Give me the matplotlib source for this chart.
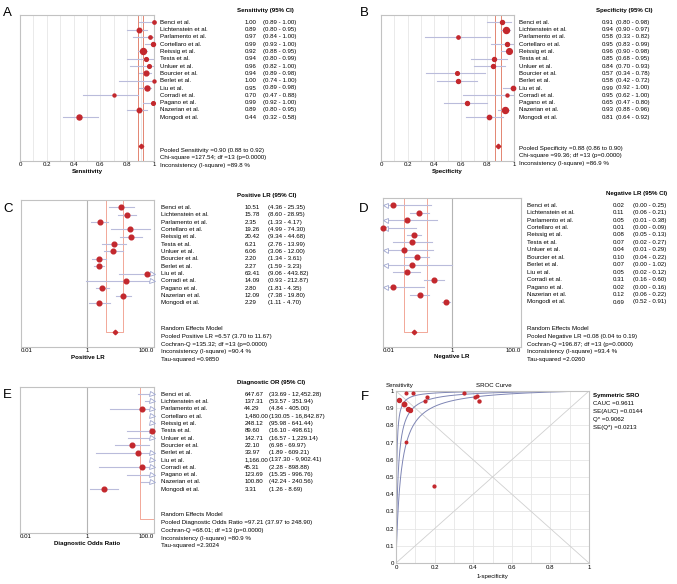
import numpy as np
import matplotlib
matplotlib.use('Agg')
import matplotlib.pyplot as plt
from matplotlib.ticker import NullLocator
from matplotlib.transforms import blended_transform_factory

plt.rcParams['font.family'] = ['Liberation Sans', 'DejaVu Sans']
(W, H, DPI) = (677, 584, 100)
FS = 4.45
###############################################################################
# Data
###############################################################################
studies = [
    'Benci et al.', 'Lichtenstein et al.', 'Parlamento et al.',
    'Cortellaro et al.', 'Reissig et al.', 'Testa et al.', 'Unluer et al.',
    'Bourcier et al.', 'Berlet et al.', 'Liu et al.', 'Corradi et al.',
    'Pagano et al.', 'Nazerian et al.', 'Mongodi et al.'
]
# Sensitivity -----------------------------------------------------------------
sens = [1.00, 0.89, 0.97, 0.99, 0.92, 0.94, 0.96, 0.94, 1.00, 0.95, 0.70, 0.99, 0.89, 0.44]
sens_lo = [0.89, 0.80, 0.84, 0.93, 0.88, 0.80, 0.82, 0.89, 0.74, 0.89, 0.47, 0.92, 0.80, 0.32]
sens_hi = [1.00, 0.95, 1.00, 1.00, 0.95, 0.99, 1.00, 0.98, 1.00, 0.98, 0.88, 1.00, 0.95, 0.58]
sens_weight = [3.3, 4.5, 3.3, 4.0, 6.0, 3.8, 3.7, 4.8, 3.0, 5.0, 3.0, 3.7, 4.5, 5.0]
sens_pool = (0.90, 0.88, 0.92)
sens_stats = [
    'Pooled Sensitivity =0.90 (0.88 to 0.92)',
    'Chi-square =127.54; df =13 (p=0.0000)',
    'Inconsistency (I-square) =89.8 %'
]
# Specificity -----------------------------------------------------------------
spec = [0.91, 0.94, 0.58, 0.95, 0.96, 0.85, 0.84, 0.57, 0.58, 0.99, 0.95, 0.65, 0.93, 0.81]
spec_lo = [0.80, 0.90, 0.33, 0.83, 0.90, 0.68, 0.70, 0.34, 0.42, 0.92, 0.62, 0.47, 0.88, 0.64]
spec_hi = [0.98, 0.97, 0.82, 0.99, 0.98, 0.95, 0.93, 0.78, 0.72, 1.00, 1.00, 0.80, 0.96, 0.92]
spec_weight = [4.0, 6.0, 3.3, 4.0, 5.7, 4.0, 4.0, 3.7, 4.0, 4.3, 3.0, 4.0, 6.0, 4.3]
spec_pool = (0.88, 0.86, 0.90)
spec_stats = [
    'Pooled Specificity =0.88 (0.86 to 0.90)',
    'Chi-square =99.36; df =13 (p=0.0000)',
    'Inconsistency (I-square) =86.9 %'
]
# Positive LR -----------------------------------------------------------------
plr = [10.51, 15.78, 2.35, 19.26, 20.42, 6.21, 6.06, 2.20, 2.27, 63.41, 14.09, 2.80, 12.09, 2.29]
plr_lo = [4.36, 8.60, 1.33, 4.99, 9.34, 2.76, 3.06, 1.34, 1.59, 9.06, 0.93, 1.81, 7.38, 1.11]
plr_hi = [25.35, 28.95, 4.17, 74.30, 44.68, 13.99, 12.00, 3.61, 3.23, 443.82, 212.87, 4.35, 19.80, 4.70]
plr_pool = (6.57, 3.70, 11.67)
plr_stats = [
    'Random Effects Model',
    'Pooled Positive LR =6.57 (3.70 to 11.67)',
    'Cochran-Q =135.32; df =13 (p=0.0000)',
    'Inconsistency (I-square) =90.4 %',
    'Tau-squared =0.9850'
]
# Negative LR -----------------------------------------------------------------
nlr = [0.02, 0.11, 0.05, 0.01, 0.08, 0.07, 0.04, 0.10, 0.07, 0.05, 0.31, 0.02, 0.12, 0.69]
nlr_lo = [0.00, 0.06, 0.01, 0.00, 0.05, 0.02, 0.01, 0.04, 0.00, 0.02, 0.16, 0.00, 0.06, 0.52]
nlr_hi = [0.25, 0.21, 0.38, 0.09, 0.13, 0.27, 0.29, 0.22, 1.02, 0.12, 0.60, 0.16, 0.22, 0.91]
nlr_pool = (0.08, 0.04, 0.19)
nlr_stats = [
    'Random Effects Model',
    'Pooled Negative LR =0.08 (0.04 to 0.19)',
    'Cochran-Q =196.87; df =13 (p=0.0000)',
    'Inconsistency (I-square) =93.4 %',
    'Tau-squared =2.0260'
]
# Diagnostic OR ---------------------------------------------------------------
dor = [647.67, 137.31, 44.29, 1480.00, 248.12, 89.60, 142.71, 22.10, 33.97, 1166.00, 45.31, 123.69, 100.80, 3.31]
dor_lo = [33.69, 53.57, 4.84, 130.05, 95.98, 16.10, 16.57, 6.98, 1.89, 137.30, 2.28, 15.35, 42.24, 1.26]
dor_hi = [12452.28, 351.94, 405.00, 16842.87, 641.44, 498.61, 1229.14, 69.97, 609.21, 9902.41, 898.88, 996.76, 240.56, 8.69]
dor_pool = (97.21, 37.97, 248.90)
dor_stats = [
    'Random Effects Model',
    'Pooled Diagnostic Odds Ratio =97.21 (37.97 to 248.90)',
    'Cochran-Q =68.01; df =13 (p=0.0000)',
    'Inconsistency (I-square) =80.9 %',
    'Tau-squared =2.3024'
]
# SROC ------------------------------------------------------------------------
roc_fpr = [0.09, 0.06, 0.42, 0.05, 0.04, 0.15, 0.16, 0.43, 0.41, 0.015, 0.05, 0.35, 0.075, 0.195]
roc_tpr = [0.986, 0.895, 0.97, 0.99, 0.922, 0.943, 0.965, 0.944, 0.964, 0.948, 0.705, 0.988, 0.89, 0.446]
roc_weight = [2.7, 4.0, 2.8, 2.7, 4.5, 2.8, 2.8, 3.0, 2.8, 4.0, 2.5, 2.8, 4.0, 2.8]
sroc_q = 0.9062
sroc_se_q = 0.0213
sroc_stats = ['CAUC =0.9611', 'SE(AUC) =0.0144', 'Q* =0.9062', 'SE(Q*) =0.0213']
###############################################################################
# Styles
###############################################################################
RED = '#C3282D'
CI = '#BABCDB'
ARROW = '#9FA6CF'
POOL = '#E38672'
BOX = '#F2A898'
GRID = '#E6E6E6'
SPINE = '#C2C2C2'
CURVE = '#7E85B4'
POOL_ROW = 18

fig = plt.figure(figsize=(W / DPI, H / DPI), dpi=DPI)


def addAxes(l, t, r, b):
    return fig.add_axes([l / W, 1 - b / H, (r - l) / W, (b - t) / H])


def forest(rect, est, lo, hi, pool, wts, log, cols, header, stats, statTop,
           statStep, xlabel, ticks, tlabels, fmt, drawPool=True):
    ax = addAxes(*rect)
    n = len(est)
    rows = np.arange(1, n + 1)
    xlim = (0.01, 100) if log else (0, 1)
    if log:
        ax.set_xscale('log')
        ax.xaxis.set_minor_locator(NullLocator())
    ax.set_xlim(*xlim)
    ax.set_ylim(20, 0)
    ax.set_yticks([])
    for s in ax.spines.values():
        s.set_color(SPINE)
        s.set_linewidth(0.8)
    # Grid / reference ------------------------------------------------------
    if log:
        ax.axvline(1, color='#B4B4B4', lw=0.8, zorder=1)
        ax.plot([pool[1], pool[1], pool[2], pool[2]], [0, POOL_ROW, POOL_ROW, 0],
                color=BOX, lw=0.7, zorder=1)
    else:
        for v in np.arange(0.1, 1.0, 0.1):
            ax.axvline(v, color=GRID, lw=0.6, zorder=0)
        ax.axvline(pool[1], color=POOL, lw=0.7, zorder=1)
        ax.axvline(pool[2], color=POOL, lw=0.7, zorder=1)
    # CI lines, arrows and markers -------------------------------------------
    for i in range(n):
        x0 = max(lo[i], xlim[0])
        x1 = min(hi[i], xlim[1])
        if x1 > x0:
            ax.plot([x0, x1], [rows[i], rows[i]], color=CI, lw=0.8, zorder=2)
        if log and lo[i] <= xlim[0]:
            ax.plot(xlim[0] * 1.12, rows[i], marker='<', ms=3.6, mfc='white',
                    mec=ARROW, mew=0.6, clip_on=False, zorder=3)
        if log and hi[i] >= xlim[1]:
            ax.plot(xlim[1] / 1.12, rows[i], marker='>', ms=3.6, mfc='white',
                    mec=ARROW, mew=0.6, clip_on=False, zorder=3)
        if xlim[0] <= est[i] <= xlim[1] and not (log and est[i] >= xlim[1]):
            ax.plot(est[i], rows[i], 'o', ms=wts[i] * 0.72, color=RED,
                    mec=RED, clip_on=False, zorder=4)
    if drawPool:
        ax.plot(pool[0], POOL_ROW, 'D', ms=2.3, color=RED, mec=RED,
                clip_on=False, zorder=4)
    # Ticks -----------------------------------------------------------------
    ax.set_xticks(ticks)
    ax.set_xticklabels(tlabels, fontsize=FS)
    ax.tick_params(axis='x', length=0, pad=0.8)
    if log:
        lbls = ax.get_xticklabels()
        lbls[0].set_ha('left')
        lbls[-1].set_ha('right')
    ax.set_xlabel(xlabel, fontsize=FS, fontweight='bold', labelpad=1.2)
    # Text table ------------------------------------------------------------
    tr = blended_transform_factory(fig.transFigure, ax.transData)
    (cName, cVal, cCI, cHead) = cols
    ax.text(cHead / W, -0.55, header, transform=tr, fontsize=FS,
            fontweight='bold', va='center', ha='left')
    for i in range(n):
        ax.text(cName / W, rows[i], studies[i], transform=tr, fontsize=FS,
                va='center', ha='left')
        ax.text(cVal / W, rows[i], fmt.format(est[i]), transform=tr,
                fontsize=FS, va='center', ha='left')
        ax.text(cCI / W, rows[i],
                '(' + fmt.format(lo[i]) + ' - ' + fmt.format(hi[i]) + ')',
                transform=tr, fontsize=FS, va='center', ha='left')
    for (j, s) in enumerate(stats):
        ax.text(cName / W, statTop + j * statStep, s, transform=tr,
                fontsize=FS, va='center', ha='left')
    return ax


lin_ticks = [0, 0.2, 0.4, 0.6, 0.8, 1]
lin_labels = ['0', '0.2', '0.4', '0.6', '0.8', '1']
log_ticks = [0.01, 1, 100]
log_labels = ['0.01', '1', '100.0']
###############################################################################
# Forest panels
###############################################################################
forest((20, 15, 154, 161), sens, sens_lo, sens_hi, sens_pool, sens_weight,
       False, (160, 244.3, 263.3, 236.7), 'Sensitivity (95% CI)', sens_stats,
       18.55, 1.0, 'Sensitivity', lin_ticks, lin_labels, '{:.2f}')
forest((381, 15, 514, 161), spec, spec_lo, spec_hi, spec_pool, spec_weight,
       False, (519, 601.3, 616.3, 595.7), 'Specificity (95% CI)', spec_stats,
       18.3, 1.0, 'Specificity', lin_ticks, lin_labels, '{:.2f}')
forest((20.7, 200, 154, 347), plr, plr_lo, plr_hi, plr_pool, [4.7] * 14,
       True, (161, 244.3, 267.7, 237.3), 'Positive LR (95% CI)', plr_stats,
       17.55, 1.04, 'Positive LR', log_ticks, log_labels, '{:.2f}')
forest((383, 197.7, 520.7, 346.7), nlr, nlr_lo, nlr_hi, nlr_pool, [4.7] * 14,
       True, (527.3, 613, 633, 605.7), 'Negative LR (95% CI)', nlr_stats,
       17.6, 1.03, 'Negative LR', log_ticks, log_labels, '{:.2f}')
forest((20, 386.7, 154, 533.3), dor, dor_lo, dor_hi, dor_pool, [4.7] * 14,
       True, (161, 244.3, 269.3, 236.7), 'Diagnostic OR (95% CI)', dor_stats,
       17.5, 1.05, 'Diagnostic Odds Ratio', log_ticks, log_labels, '{:,.2f}',
       drawPool=False)
###############################################################################
# SROC panel
###############################################################################
axF = addAxes(396, 391, 589, 563)
axF.set_xlim(0, 1)
axF.set_ylim(0, 1)
for s in axF.spines.values():
    s.set_color(SPINE)
    s.set_linewidth(0.8)
for v in np.arange(0.1, 1.0, 0.1):
    axF.axvline(v, color=GRID, lw=0.6, zorder=0)
    axF.axhline(v, color=GRID, lw=0.6, zorder=0)
axF.plot([0, 1], [0, 1], color='#D0D0D0', lw=0.6, zorder=1)
axF.plot([0, 1], [1, 0], color='#D0D0D0', lw=0.6, zorder=1)
fpr = np.linspace(1e-5, 1, 600)
for q in (sroc_q - 1.96 * sroc_se_q, sroc_q, sroc_q + 1.96 * sroc_se_q):
    a = 2 * np.log(q / (1 - q))
    tpr = 1 / (1 + np.exp(-a) * (1 - fpr) / fpr)
    axF.plot(np.r_[0, fpr], np.r_[0, tpr], color=CURVE, lw=0.7, zorder=2)
for i in range(len(roc_fpr)):
    axF.plot(roc_fpr[i], roc_tpr[i], 'o', ms=roc_weight[i] * 0.72, color=RED,
             mec=RED, clip_on=False, zorder=4)
axF.set_xticks(lin_ticks)
axF.set_xticklabels(lin_labels, fontsize=FS)
axF.set_yticks(np.round(np.arange(0, 1.01, 0.1), 1))
axF.set_yticklabels(['0'] + ['%.1f' % v for v in np.arange(0.1, 0.95, 0.1)] + ['1'],
                    fontsize=FS)
axF.tick_params(length=0, pad=1.5)
axF.set_xlabel('1-specificity', fontsize=FS, labelpad=2.5)
fig.text(386 / W, 1 - 385 / H, 'Sensitivity', fontsize=FS, va='center', ha='left')
fig.text(476 / W, 1 - 385.7 / H, 'SROC Curve', fontsize=FS, va='center', ha='left')
fig.text(593 / W, 1 - 395 / H, 'Symmetric SRO', fontsize=FS, fontweight='bold',
         va='center', ha='left')
for (j, s) in enumerate(sroc_stats):
    fig.text(593 / W, 1 - (403.3 + 8.2 * j) / H, s, fontsize=FS, va='center', ha='left')
###############################################################################
# Panel letters
###############################################################################
for (lab, x, y) in [('A', 2.5, 12.8), ('B', 359.5, 12.5), ('C', 3, 209.5),
                    ('D', 358.5, 208.8), ('E', 2.5, 395), ('F', 360.5, 396.7)]:
    fig.text(x / W, 1 - y / H, lab, fontsize=9.5, va='center', ha='left')
# Export ----------------------------------------------------------------------
fig.savefig('out.png', dpi=DPI)
